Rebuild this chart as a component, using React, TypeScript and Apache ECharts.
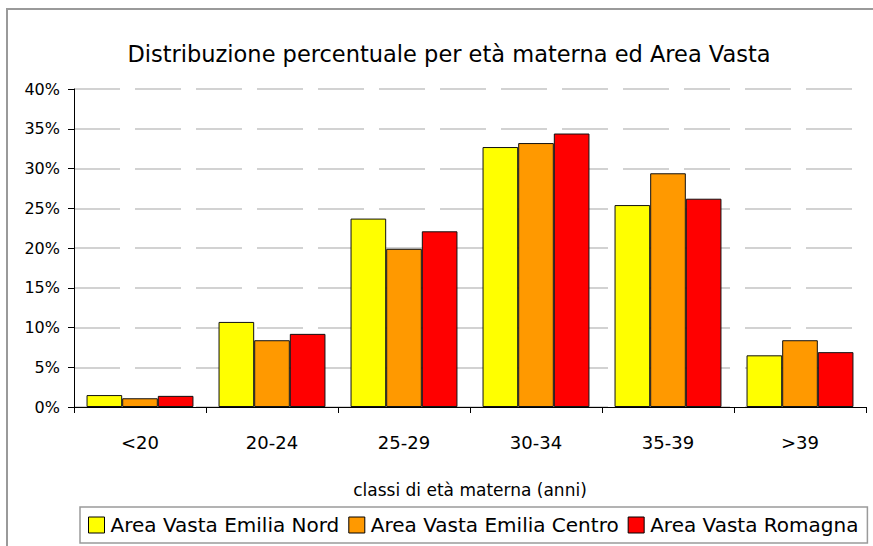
import React, { useEffect, useRef } from "react";
import * as echarts from "echarts";

const categories = ["<20", "20-24", "25-29", "30-34", "35-39", ">39"];
const seriesNames = ["Area Vasta Emilia Nord", "Area Vasta Emilia Centro", "Area Vasta Romagna"];
const emiliaNord = [1.5, 10.7, 23.7, 32.7, 25.4, 6.5];
const emiliaCentro = [1.1, 8.4, 19.9, 33.2, 29.4, 8.4];
const romagna = [1.4, 9.2, 22.1, 34.4, 26.2, 6.9];
const seriesColors = ["#FFFF00", "#FF9900", "#FF0000"];
const yTicks = { min: 0, max: 40, interval: 5 };
const titleText = "Distribuzione percentuale per età materna ed Area Vasta";
const xAxisName = "classi di età materna (anni)";

const FONT = "'Comic Sans MS', 'DejaVu Sans', sans-serif";

export default function App() {
  const ref = useRef<HTMLDivElement>(null);
  useEffect(() => {
    if (!ref.current) return;
    const chart = echarts.init(ref.current, null, { renderer: "svg" });
    const values = [emiliaNord, emiliaCentro, romagna];
    chart.setOption({
      animation: false,
      backgroundColor: "#ffffff",
      textStyle: { fontFamily: FONT, color: "#000" },
      title: {
        text: titleText,
        left: 444,
        top: 37,
        textAlign: "center",
        textStyle: { fontFamily: FONT, fontSize: 22.5, fontWeight: "normal", color: "#000" },
      },
      graphic: [
        {
          type: "rect",
          shape: { x: 7, y: 9, width: 1000, height: 1000 },
          style: { fill: "none", stroke: "#9a9a9a", lineWidth: 2 },
          silent: true,
          z: -10,
        },
      ],
      legend: {
        left: 80,
        top: 507,
        padding: [8, 9, 8, 8],
        itemGap: 9,
        itemWidth: 16,
        itemHeight: 16,
        icon: "rect",
        borderColor: "#9a9a9a",
        borderWidth: 1.5,
        backgroundColor: "#fff",
        itemStyle: { borderColor: "#000", borderWidth: 1 },
        textStyle: { fontFamily: FONT, fontSize: 20, color: "#000", padding: [0, 0, 0, 1] },
        data: seriesNames,
      },
      grid: { left: 74, right: 7, top: 89, bottom: 139, containLabel: false },
      xAxis: {
        type: "category",
        data: categories,
        name: xAxisName,
        nameLocation: "middle",
        nameGap: 74,
        nameTextStyle: { fontFamily: FONT, fontSize: 17, color: "#000" },
        axisLine: { lineStyle: { color: "#000", width: 1 } },
        axisTick: { show: true, length: 6, lineStyle: { color: "#000" } },
        axisLabel: { fontFamily: FONT, fontSize: 18, color: "#000", margin: 26 },
      },
      yAxis: {
        type: "value",
        min: yTicks.min,
        max: yTicks.max,
        interval: yTicks.interval,
        axisLine: { show: true, lineStyle: { color: "#000", width: 1 } },
        axisTick: { show: true, length: 6, lineStyle: { color: "#000" } },
        axisLabel: { fontFamily: FONT, fontSize: 16, color: "#000", margin: 14, formatter: "{value}%" },
        splitLine: { show: true, lineStyle: { color: "#c4c4c4", width: 1.5, type: [46, 15] } },
      },
      series: seriesNames.map((name, i) => ({
        name,
        type: "bar",
        data: values[i],
        barGap: "0%",
        barCategoryGap: "19%",
        itemStyle: { color: seriesColors[i], borderColor: "#111", borderWidth: 1 },
      })),
    });
    return () => chart.dispose();
  }, []);
  return (
    <div
      ref={ref}
      style={{ position: "fixed", left: 0, top: 0, width: 873, height: 546 }}
    />
  );
}
